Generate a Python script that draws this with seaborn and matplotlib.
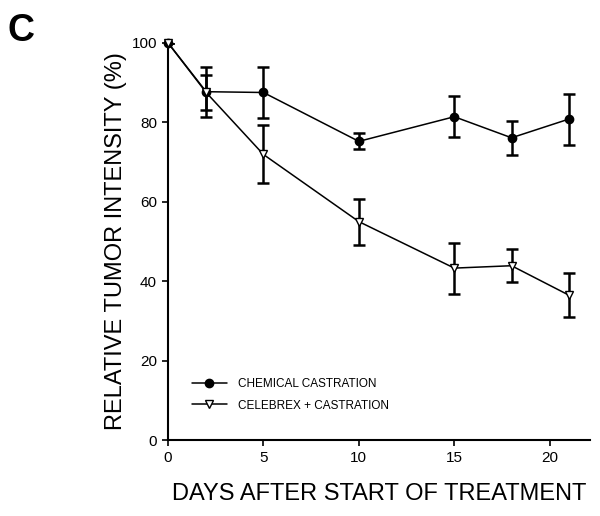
import matplotlib
matplotlib.use("Agg")
import matplotlib.pyplot as plt
import seaborn as sns
import pandas as pd

# Data
days = [0, 2, 5, 10, 15, 18, 21]
chem_mean = [100, 87.7, 87.5, 75.2, 81.4, 76.1, 80.8]
chem_err = [0, 6.3, 6.3, 2.0, 5.1, 4.3, 6.4]
celeb_mean = [100, 87.5, 71.9, 55.0, 43.3, 43.9, 36.5]
celeb_err = [0, 4.5, 7.3, 5.8, 6.4, 4.2, 5.5]
labels = ["CHEMICAL CASTRATION", "CELEBREX + CASTRATION"]
x_ticks = [0, 5, 10, 15, 20]
y_ticks = [0, 20, 40, 60, 80, 100]

sns.set_style("ticks")
plt.rcParams["font.family"] = ["Liberation Sans", "DejaVu Sans"]
plt.rcParams["text.color"] = "black"
plt.rcParams["axes.labelcolor"] = "black"
plt.rcParams["xtick.color"] = "black"
plt.rcParams["ytick.color"] = "black"
plt.rcParams["axes.edgecolor"] = "black"

df = pd.DataFrame({
    "day": days * 2,
    "value": chem_mean + celeb_mean,
    "err": chem_err + celeb_err,
    "group": [labels[0]] * len(days) + [labels[1]] * len(days),
})

fig = plt.figure(figsize=(6.0, 5.16), dpi=100)
ax = fig.add_axes([0.28, 0.147, 0.703, 0.77])

for grp, marker, face in [(labels[0], "o", "black"), (labels[1], "v", "white")]:
    sub = df[df["group"] == grp]
    ax.errorbar(sub["day"], sub["value"], yerr=sub["err"], fmt="none",
                ecolor="black", elinewidth=1.8, capsize=4.2, capthick=1.8, zorder=2)
    sns.lineplot(data=sub, x="day", y="value", ax=ax, color="black", linewidth=1.1,
                 marker=marker, markersize=6, markerfacecolor=face,
                 markeredgecolor="black", markeredgewidth=1.0, label=grp, zorder=3,
                 clip_on=False)

ax.set_xlim(0, 22.1)
ax.set_ylim(0, 100)
ax.set_xticks(x_ticks)
ax.set_yticks(y_ticks)
ax.tick_params(axis="both", direction="out", length=4, width=1.2, labelsize=11, pad=4)
for s in ["top", "right"]:
    ax.spines[s].set_visible(False)
for s in ["left", "bottom"]:
    ax.spines[s].set_linewidth(1.5)

ax.set_xlabel("DAYS AFTER START OF TREATMENT", fontsize=17, labelpad=13)
ax.set_ylabel("RELATIVE TUMOR INTENSITY (%)", fontsize=17, labelpad=3)

leg = ax.legend(loc="lower left", bbox_to_anchor=(0.045, 0.06), frameon=False,
                fontsize=8.5, handlelength=3.0, handletextpad=0.9, labelspacing=0.8,
                borderaxespad=0)

fig.text(0.013, 0.975, "C", fontsize=27, fontweight="bold", va="top", ha="left")

fig.savefig("out.png", dpi=100)
